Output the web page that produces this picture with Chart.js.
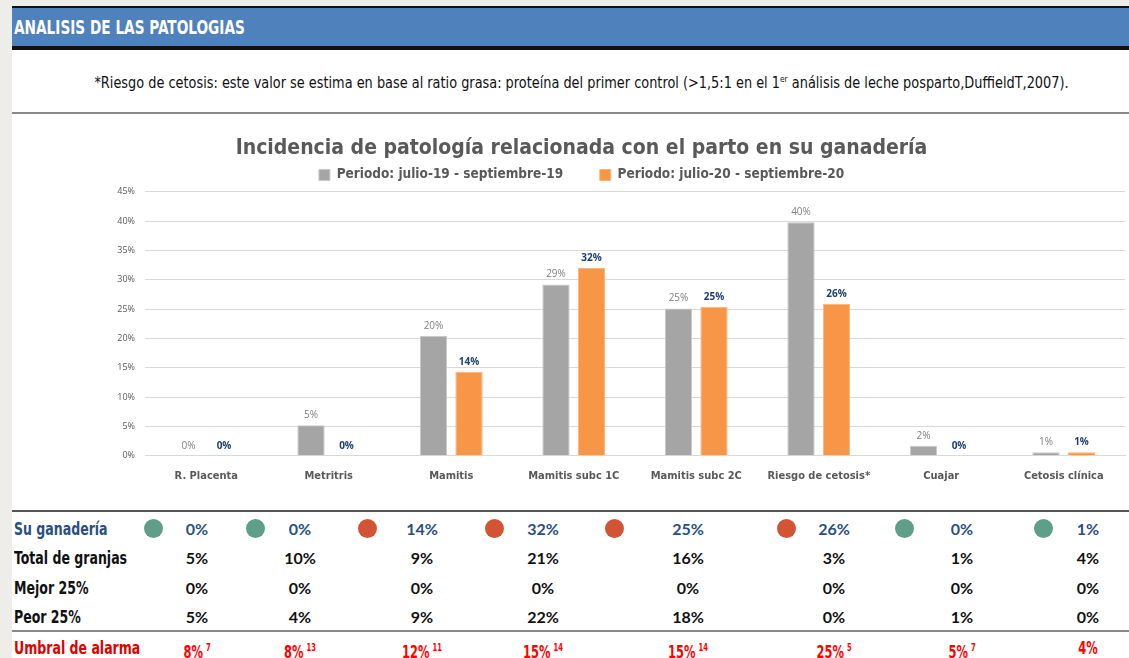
<!DOCTYPE html>
<html>
<head>
<meta charset="utf-8">
<script src="https://cdn.jsdelivr.net/npm/chart.js@4.4.0/dist/chart.umd.min.js"></script>
<style>
  html, body { margin: 0; padding: 0; }
  body { width: 1129px; height: 658px; overflow: hidden; background: #eeede9; position: relative;
         font-family: 'DejaVu Sans Condensed', 'DejaVu Sans', sans-serif; }
  #page { position: absolute; left: 12px; top: 6px; width: 1117px; height: 652px; background: #fff; }
  #header { position: absolute; left: 12px; top: 6px; width: 1117px; height: 38px; background: #4f81bd;
            border-top: 2px solid #111; border-bottom: 4px solid #111; color: #fff; font-weight: bold;
            font-size: 19px; line-height: 38px; }
  #header span { position: absolute; left: 2px; transform: scaleX(0.8); transform-origin: left center; white-space: nowrap; }
  #note { position: absolute; left: 12px; top: 74px; width: 1139px; text-align: center; font-size: 15.5px; color: #111;
          transform: scaleX(0.925); transform-origin: center; white-space: nowrap; }
  #note sup { font-size: 9px; }
  .hline { position: absolute; left: 12px; width: 1117px; }
  #chartBox { position: absolute; left: 38px; top: 115px; width: 1112px; height: 390px; }
  .row { position: absolute; left: 0; width: 1129px; height: 28px; line-height: 28px; }
  .lbl { position: absolute; left: 14px; font-weight: bold; font-size: 17px; white-space: nowrap;
         transform: scaleX(0.82); transform-origin: left center; }
  .val { position: absolute; width: 80px; margin-left: -40px; text-align: center;
         font-family: Lato, 'Open Sans', sans-serif; font-weight: bold; font-size: 16px; }
  .dot { position: absolute; width: 19px; height: 19px; border-radius: 50%; margin-left: -10px; top: 4px; }
  .umb { position: absolute; width: 80px; margin-left: -40px; text-align: center; color: #f00; white-space: nowrap;
         font-weight: bold; font-size: 17px; transform: scaleX(0.75); transform-origin: center; }
  .umb sup { font-size: 10px; margin-left: 4px; vertical-align: 7px; }
</style>
</head>
<body>
<div id="page"></div>
<div id="header"><span>ANALISIS DE LAS PATOLOGIAS</span></div>
<div id="note">*Riesgo de cetosis: este valor se estima en base al ratio grasa: proteína del primer control (&gt;1,5:1 en el 1<sup>er</sup> análisis de leche posparto,DuffieldT,2007).</div>
<div class="hline" style="top:112px;height:2px;background:#8a8a8a"></div>
<div id="chartBox"><canvas id="myChart" width="1112" height="390"></canvas></div>
<div class="hline" style="top:510px;height:2px;background:#555"></div>
<div class="hline" style="top:630px;height:2px;background:#8a8a8a"></div>
<div id="table"></div>

<script>
const categories = ["R. Placenta", "Metritris", "Mamitis", "Mamitis subc 1C", "Mamitis subc 2C", "Riesgo de cetosis*", "Cuajar", "Cetosis clínica"];
const seriesNames = ["Periodo: julio-19 - septiembre-19", "Periodo: julio-20 - septiembre-20"];
const period19 = [0, 5.2, 20.4, 29.2, 25.1, 39.8, 1.7, 0.6];
const period20 = [0, 0, 14.3, 32.0, 25.4, 25.9, 0, 0.6];
const yTicks = [0, 5, 10, 15, 20, 25, 30, 35, 40, 45];

const suGanaderia = [0, 0, 14, 32, 25, 26, 0, 1];
const alarmState = ["ok", "ok", "alarm", "alarm", "alarm", "alarm", "ok", "ok"];
const totalGranjas = [5, 10, 9, 21, 16, 3, 1, 4];
const mejor25 = [0, 0, 0, 0, 0, 0, 0, 0];
const peor25 = [5, 4, 9, 22, 18, 0, 1, 0];
const umbral = [8, 8, 12, 15, 15, 25, 5, 4];
const umbralRef = ["7", "13", "11", "14", "14", "5", "7", ""];

const condensed = "'DejaVu Sans Condensed', 'DejaVu Sans', sans-serif";
const valueCols = [197, 300, 422, 543, 688, 834, 962, 1088];
const dotCols = [154, 256, 368, 495, 615, 787, 905, 1044];

// bar value labels (no datalabels plugin offline)
const barLabels = {
  id: "barLabels",
  afterDatasetsDraw(chart) {
    const ctx = chart.ctx;
    ctx.save();
    ctx.textAlign = "center";
    ctx.textBaseline = "bottom";
    chart.data.datasets.forEach((ds, i) => {
      const meta = chart.getDatasetMeta(i);
      ctx.font = i === 0 ? "10px 'Open Sans', sans-serif" : "bold 10px 'Open Sans', sans-serif";
      ctx.fillStyle = i === 0 ? "#7f7f7f" : "#1f3f73";
      meta.data.forEach((bar, j) => {
        ctx.fillText(Math.round(ds.data[j]) + "%", bar.x, bar.y - 5);
      });
    });
    ctx.restore();
  }
};

new Chart(document.getElementById("myChart"), {
  type: "bar",
  data: {
    labels: categories,
    datasets: [
      { label: seriesNames[0], data: period19, backgroundColor: "#a5a5a5", borderColor: "#c9c9c9", borderWidth: 1 },
      { label: seriesNames[1], data: period20, backgroundColor: "#f79646", borderColor: "#fbb47a", borderWidth: 1 }
    ]
  },
  options: {
    responsive: false,
    animation: false,
    categoryPercentage: 0.58,
    barPercentage: 0.77,
    layout: { padding: { left: 0, right: 25, top: 0, bottom: 16 } },
    plugins: {
      title: {
        display: true,
        text: "Incidencia de patología relacionada con el parto en su ganadería",
        color: "#595959",
        font: { family: condensed, size: 21, weight: "bold" },
        padding: { top: 21, bottom: 0 }
      },
      legend: {
        labels: {
          color: "#595959",
          boxWidth: 11,
          boxHeight: 11,
          padding: 7,
          font: { family: condensed, size: 13.5, weight: "bold" },
          // wider gap between the two items
          generateLabels(chart) {
            const items = Chart.defaults.plugins.legend.labels.generateLabels(chart);
            items[0].text += "\u00a0\u00a0\u00a0\u00a0\u00a0\u00a0\u00a0";
            return items;
          }
        }
      },
      tooltip: { enabled: false }
    },
    scales: {
      x: {
        grid: { display: false },
        border: { color: "#d9d9d9" },
        ticks: { color: "#595959", padding: 6, maxRotation: 0, autoSkip: false,
                 font: { family: condensed, size: 11, weight: "bold" } }
      },
      y: {
        min: 0,
        max: 45,
        afterBuildTicks(scale) { scale.ticks = yTicks.map(v => ({ value: v })); },
        afterFit(scale) { scale.width = 107; },
        grid: { color: "#d9d9d9", drawTicks: false },
        border: { display: false },
        ticks: { color: "#595959", padding: 10, font: { family: "'Open Sans', sans-serif", size: 9 }, callback: v => v + "%" }
      }
    }
  },
  plugins: [barLabels]
});

// table under the chart
const table = document.getElementById("table");
function addRow(top, label, color, values, opts) {
  const row = document.createElement("div");
  row.className = "row";
  row.style.top = top + "px";
  let html = `<div class="lbl" style="color:${color}">${label}</div>`;
  values.forEach((v, i) => {
    if (opts && opts.dots) {
      const c = alarmState[i] === "alarm" ? "#d35434" : "#5f9e89";
      html += `<div class="dot" style="left:${dotCols[i]}px;background:${c}"></div>`;
    }
    html += `<div class="val" style="left:${valueCols[i]}px;color:${color}">${v}%</div>`;
  });
  row.innerHTML = html;
  table.appendChild(row);
}
addRow(515, "Su ganadería", "#2b4f81", suGanaderia, { dots: true });
addRow(544, "Total de granjas", "#111", totalGranjas);
addRow(574, "Mejor 25%", "#111", mejor25);
addRow(603, "Peor 25%", "#111", peor25);

const umbRow = document.createElement("div");
umbRow.className = "row";
umbRow.style.top = "634px";
let umbHtml = `<div class="lbl" style="color:#e00000">Umbral de alarma</div>`;
umbral.forEach((v, i) => {
  const ref = umbralRef[i] ? `<sup>${umbralRef[i]}</sup>` : "";
  umbHtml += `<div class="umb" style="left:${valueCols[i]}px">${v}%${ref}</div>`;
});
umbRow.innerHTML = umbHtml;
table.appendChild(umbRow);
</script>
</body>
</html>
